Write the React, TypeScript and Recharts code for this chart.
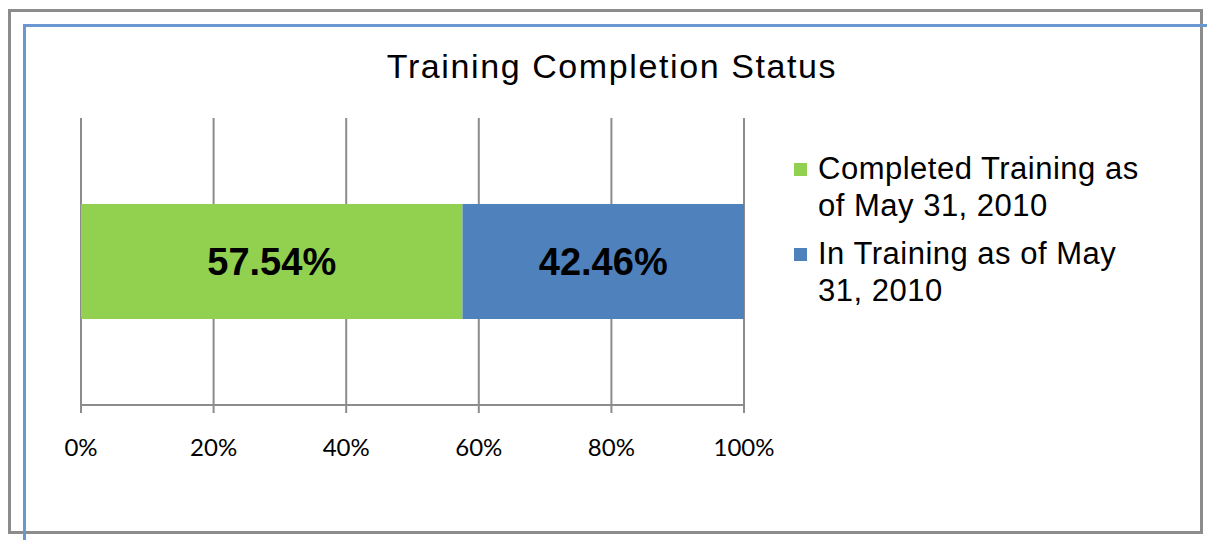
import { BarChart, Bar, XAxis, YAxis, CartesianGrid, Legend, LabelList } from 'recharts';

const categories = ['Status'];
const completed = [57.54];
const inTraining = [42.46];
const seriesNames = ['Completed Training as of May 31, 2010', 'In Training as of May 31, 2010'];
const seriesColors = ['#92d050', '#4f81bd'];
const xTicks = [0, 20, 40, 60, 80, 100];

const data = categories.map((name, i) => ({
  name,
  completed: completed[i],
  inTraining: inTraining[i],
}));

const arial = 'Arial, "Liberation Sans", sans-serif';

const renderLegend = () => (
  <div style={{ fontFamily: arial, fontSize: 31, letterSpacing: 0.5, lineHeight: '37px', color: '#000' }}>
    {seriesNames.map((label, i) => (
      <div key={label} style={{ display: 'flex', alignItems: 'flex-start', marginBottom: 11 }}>
        <span
          style={{
            display: 'inline-block',
            width: 13,
            height: 13,
            background: seriesColors[i],
            marginTop: 13,
            marginRight: 11,
            flex: 'none',
          }}
        />
        <span style={{ width: 345 }}>{label}</span>
      </div>
    ))}
  </div>
);

export default function App() {
  return (
    <div style={{ position: 'fixed', left: 0, top: 0, width: 1207, height: 540, background: '#fff', overflow: 'hidden' }}>
      <div
        style={{
          position: 'absolute',
          left: 8,
          top: 9,
          width: 1189,
          height: 519,
          border: '3px solid #8c8c8c',
        }}
      />
      <div
        style={{
          position: 'absolute',
          left: 23,
          top: 24,
          width: 1190,
          height: 530,
          borderTop: '3px solid #6a97d2',
          borderLeft: '3px solid #6a97d2',
        }}
      />
      <div
        style={{
          position: 'absolute',
          left: 0,
          top: 47,
          width: 1224,
          textAlign: 'center',
          fontFamily: arial,
          fontSize: 34,
          letterSpacing: 1.6,
          color: '#000',
        }}
      >
        Training Completion Status
      </div>
      <div style={{ position: 'absolute', left: 0, top: 0 }}>
        <BarChart
          width={1207}
          height={540}
          data={data}
          layout="vertical"
          margin={{ top: 118, right: 63, left: 81, bottom: 75 }}
          barSize={115}
        >
          <CartesianGrid horizontal={false} stroke="#8c8c8c" strokeWidth={2} />
          <XAxis
            type="number"
            domain={[0, 100]}
            ticks={xTicks}
            tickFormatter={(v: number) => `${v}%`}
            height={60}
            stroke="#8c8c8c"
            strokeWidth={2}
            tickSize={8}
            tick={{ fill: '#000', fontFamily: 'Lato, "Open Sans", sans-serif', fontSize: 24, dy: 24 }}
          />
          <YAxis type="category" dataKey="name" hide width={0} />
          <Legend
            layout="vertical"
            align="right"
            verticalAlign="top"
            content={renderLegend}
            wrapperStyle={{ position: 'absolute', left: 794, top: 150, width: 400 }}
          />
          <Bar dataKey="completed" name={seriesNames[0]} stackId="a" fill={seriesColors[0]} isAnimationActive={false}>
            <LabelList
              dataKey="completed"
              position="center"
              formatter={(v: number) => `${v.toFixed(2)}%`}
              style={{ fill: '#000', fontFamily: arial, fontSize: 38, fontWeight: 'bold' }}
            />
          </Bar>
          <Bar dataKey="inTraining" name={seriesNames[1]} stackId="a" fill={seriesColors[1]} isAnimationActive={false}>
            <LabelList
              dataKey="inTraining"
              position="center"
              formatter={(v: number) => `${v.toFixed(2)}%`}
              style={{ fill: '#000', fontFamily: arial, fontSize: 38, fontWeight: 'bold' }}
            />
          </Bar>
        </BarChart>
      </div>
    </div>
  );
}
